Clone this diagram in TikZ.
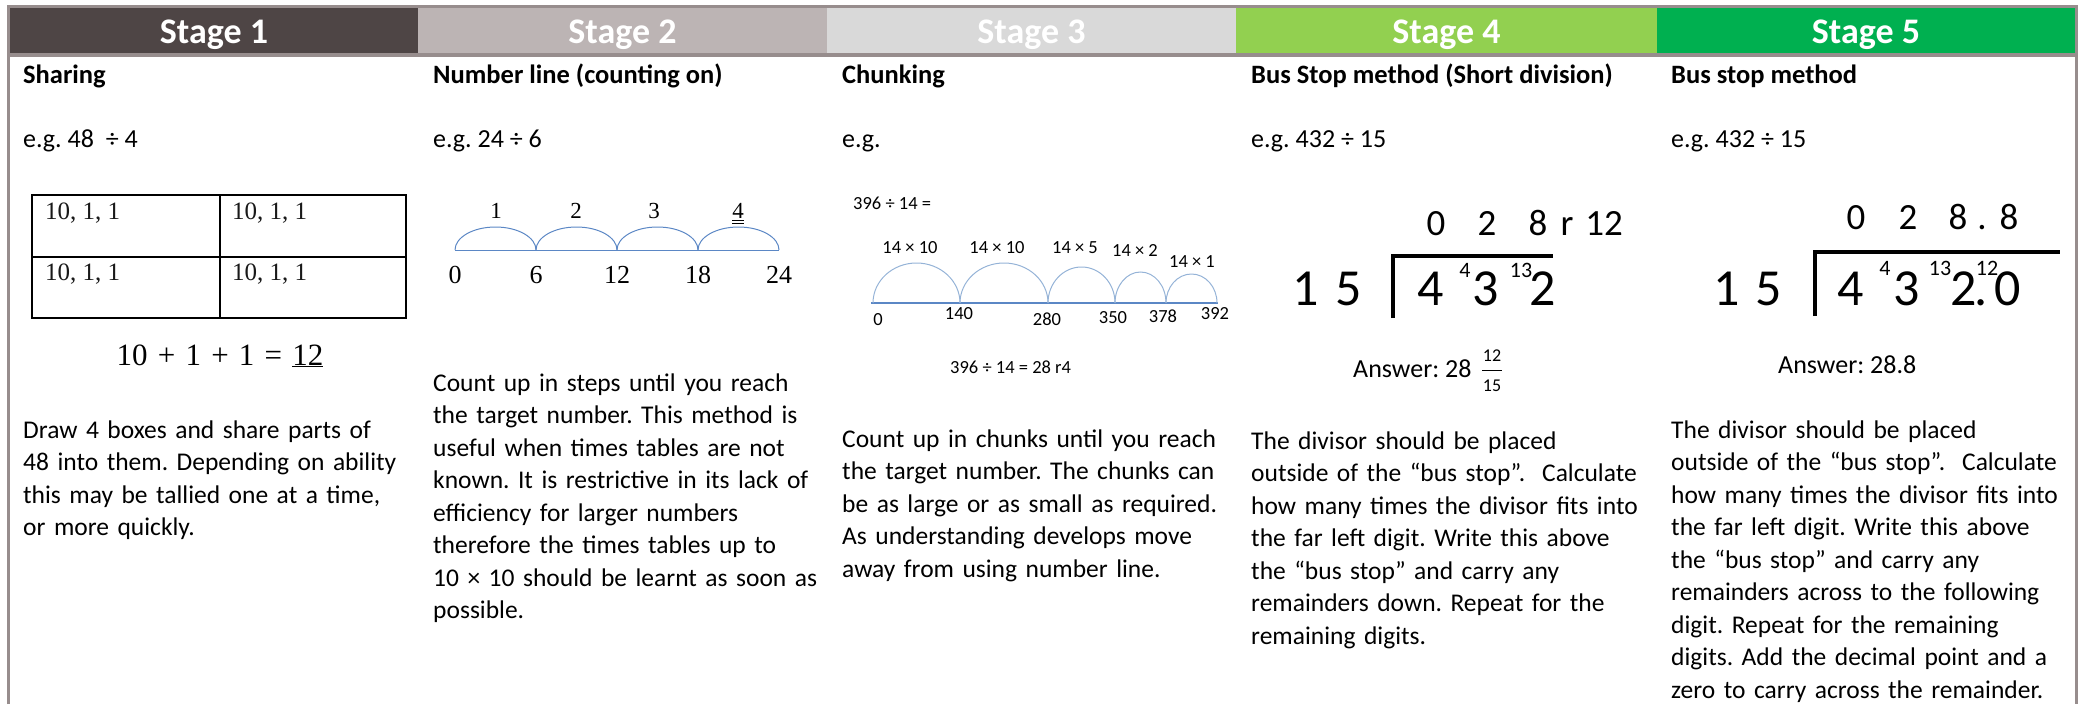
\documentclass[tikz,border=0pt]{standalone}
\usepackage{fontspec}
\setmainfont{Carlito}
\newfontfamily\timesfont{Liberation Serif}

\definecolor{framegray}{HTML}{978D8D}
\definecolor{headone}{HTML}{4E4545}
\definecolor{headtwo}{HTML}{BCB4B4}
\definecolor{headthree}{HTML}{D9D9D9}
\definecolor{headfour}{HTML}{92D050}
\definecolor{headfive}{HTML}{00B050}
\definecolor{lineblue}{HTML}{5B87C5}
\definecolor{arcblue}{HTML}{95B3D7}

\newcommand{\bodysize}{\fontsize{25.5}{32.5}\selectfont}

\begin{document}
\frenchspacing
\begin{tikzpicture}[x=1pt,y=1pt,
    head/.style={font=\fontsize{36}{40}\selectfont\bfseries, text=white, anchor=base, inner sep=0},
    title/.style={font=\fontsize{26.5}{32.5}\selectfont\bfseries, anchor=base west, inner sep=0},
    txt/.style={font=\fontsize{26}{32.5}\selectfont, anchor=base west, inner sep=0},
    para/.style={font=\bodysize, anchor=base west, inner sep=0, text width=405pt, align=left},
    cell/.style={font=\timesfont\fontsize{25}{28}\selectfont, text=black!90, anchor=base west, inner sep=0},
    tick/.style={font=\timesfont\fontsize{26}{28}\selectfont, anchor=base, inner sep=0},
    jump/.style={font=\timesfont\fontsize{23}{26}\selectfont, anchor=base, inner sep=0},
    chunk/.style={font=\fontsize{18.5}{22}\selectfont, anchor=base, inner sep=0},
    big/.style={font=\fontsize{52}{56}\selectfont, anchor=base, inner sep=0},
    quot/.style={font=\fontsize{37}{40}\selectfont, anchor=base, inner sep=0},
    carry/.style={font=\fontsize{22}{24}\selectfont, anchor=base, inner sep=0},
    frac/.style={font=\fontsize{18}{20}\selectfont, anchor=base, inner sep=0},
    frame/.style={framegray, line width=3pt, line join=miter},
    busstop/.style={line width=4pt},
  ]
  \useasboundingbox (0,0) rectangle (2082,-704);

  % header band
  \foreach \n/\xa/\xb/\col in {1/10/418/headone,2/418/827/headtwo,3/827/1236/headthree,4/1236/1657/headfour,5/1657/2075/headfive}{
    \fill[\col] (\xa,-8) rectangle (\xb,-53);
    \node[head] (stage\n) at ({(\xa+\xb)/2},-43.5) {Stage \n};
  }
  \draw[frame] (8.5,-704) -- (8.5,-6.5) -- (2076.5,-6.5) -- (2076.5,-704);
  \draw[frame, line width=4pt] (7,-55) -- (2078,-55);

  % stage 1
  \node[title] (titleone) at (23,-83) {Sharing};
  \node[txt] (egone) at (23,-147) {e.g. 48\ \ ÷ 4};
  \draw[line width=1.8pt] (32,-195) rectangle (406,-318);
  \draw[line width=1.8pt] (32,-257) -- (406,-257);
  \draw[line width=1.8pt] (220,-195) -- (220,-318);
  \node[cell] (cella) at (45,-219) {10, 1, 1};
  \node[cell] (cellb) at (232,-219) {10, 1, 1};
  \node[cell] (cellc) at (45,-280) {10, 1, 1};
  \node[cell] (celld) at (232,-280) {10, 1, 1};
  \node[inner sep=0, anchor=base, font=\timesfont\fontsize{31}{34}\selectfont] (sumeq) at (220,-365) {\spaceskip=0.33em\relax 10 + 1 + 1 = \underline{12}};
  \node[para] (textone) at (23,-438) {Draw 4 boxes and share parts of\\
    48 into them. Depending on ability\\
    this may be tallied one at a time,\\
    or more quickly.};

  % stage 2
  \node[title] (titletwo) at (433,-83) {Number line (counting on)};
  \node[txt] (egtwo) at (433,-147) {e.g. 24 ÷ 6};
  \draw[lineblue, line width=1pt] (455,-250) -- (779,-250);
  \foreach \i in {0,...,3}
    \draw[lineblue, line width=1pt] ({455+81*\i},-250) arc[start angle=180, end angle=0, x radius=40.5, y radius=23];
  \foreach \v [count=\i from 0] in {0,6,12,18,24}
    \node[tick] (nl\i) at ({455+81*\i},-283) {\v};
  \foreach \v/\x in {1/496,2/576,3/654,4/738}
    \node[jump] (jump\v) at (\x,-218) {\v};
  \draw[line width=0.9pt] ([yshift=-2pt]jump4.base west) -- ([yshift=-2pt]jump4.base east);
  \draw[line width=0.9pt] ([yshift=-5pt]jump4.base west) -- ([yshift=-5pt]jump4.base east);
  \node[para] (texttwo) at (433,-391) {Count up in steps until you reach\\
    the target number. This method is\\
    useful when times tables are not\\
    known. It is restrictive in its lack of\\
    efficiency for larger numbers\\
    therefore the times tables up to\\
    10 × 10 should be learnt as soon as\\
    possible.};

  % stage 3
  \node[title] (titlethree) at (842,-83) {Chunking};
  \node[txt] (egthree) at (842,-147) {e.g.};
  \node[chunk, anchor=base west] (sumthree) at (853,-209) {396 ÷ 14 =};
  \draw[lineblue, line width=2pt] (871,-303) -- (1218,-303);
  \foreach \a/\b/\h in {873/960/40,960/1048/40,1048/1115/36,1115/1166/31,1166/1217/29}
    \draw[arcblue, line width=1pt] (\a,-303) arc[start angle=180, end angle=0, x radius={(\b-\a)/2}, y radius=\h];
  \foreach \v/\x/\y in {0/878/325,140/959/319,280/1047/325,350/1113/323,378/1163/322,392/1215/319}
    \node[chunk] (pt\v) at (\x,-\y) {\v};
  \foreach \v/\x/\y [count=\i] in {10/910/253,10/997/253,5/1075/253,2/1135/256,1/1192/267}
    \node[chunk] (step\i) at (\x,-\y) {14 × \v};
  \node[chunk, anchor=base west] (resthree) at (950,-373) {396 ÷ 14 = 28 r4};
  \node[para] (textthree) at (842,-447) {Count up in chunks until you reach\\
    the target number. The chunks can\\
    be as large or as small as required.\\
    As understanding develops move\\
    away from using number line.};

  % stage 4
  \node[title] (titlefour) at (1251,-83) {Bus Stop method (Short division)};
  \node[txt] (egfour) at (1251,-147) {e.g. 432 ÷ 15};
  \foreach \v/\x in {0/1436,2/1487,8/1538,r/1567,12/1604}
    \node[quot] (qf\v) at (\x,-235) {\v};
  \foreach \v/\x [count=\i] in {1/1306,5/1349,4/1431,3/1486,2/1543}
    \node[big] (df\i) at (\x,-305) {\v};
  \node[carry] (cfa) at (1465,-277) {4};
  \node[carry] (cfb) at (1521,-277) {13};
  \draw[busstop] (1393,-318) -- (1393,-256) -- (1553,-256);
  \node[txt] (ansfour) at (1353,-377) {Answer: 28};
  \node[frac] (numfour) at (1492,-361) {12};
  \node[frac] (denfour) at (1492,-391) {15};
  \draw[line width=1.2pt] (1482,-370.5) -- (1502,-370.5);
  \node[para] (textfour) at (1251,-449) {The divisor should be placed\\
    outside of the “bus stop”.\ \ Calculate\\
    how many times the divisor fits into\\
    the far left digit. Write this above\\
    the “bus stop” and carry any\\
    remainders down. Repeat for the\\
    remaining digits.};

  % stage 5
  \node[title] (titlefive) at (1671,-83) {Bus stop method};
  \node[txt] (egfive) at (1671,-147) {e.g. 432 ÷ 15};
  \foreach \v/\x [count=\i] in {0/1856,2/1908,8/1958,./1982,8/2009}
    \node[quot] (qs\i) at (\x,-229) {\v};
  \foreach \v/\x [count=\i] in {1/1727,5/1769,4/1851,3/1907,2/1964,./1981,0/2008}
    \node[big] (ds\i) at (\x,-305) {\v};
  \node[carry] (csa) at (1885,-275) {4};
  \node[carry] (csb) at (1940,-275) {13};
  \node[carry] (csc) at (1987,-275) {12};
  \draw[busstop] (1814.5,-316) -- (1814.5,-252) -- (2060,-252);
  \node[txt] (ansfive) at (1778,-373) {Answer: 28.8};
  \node[para] (textfive) at (1671,-438) {The divisor should be placed\\
    outside of the “bus stop”.\ \ Calculate\\
    how many times the divisor fits into\\
    the far left digit. Write this above\\
    the “bus stop” and carry any\\
    remainders across to the following\\
    digit. Repeat for the remaining\\
    digits. Add the decimal point and a\\
    zero to carry across the remainder.};
\end{tikzpicture}
\end{document}
